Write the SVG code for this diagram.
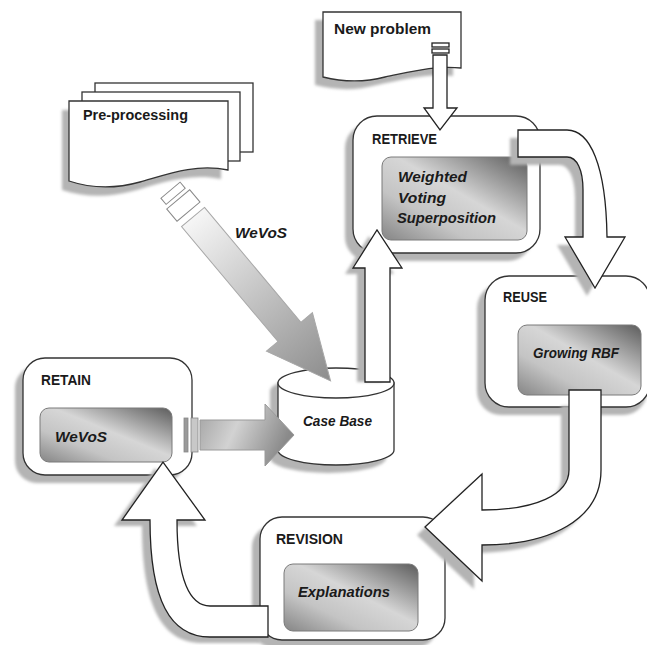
<svg xmlns="http://www.w3.org/2000/svg" width="647" height="645" viewBox="0 0 647 645">
<defs>
<style>
.sh{fill:#b4b4b4;filter:url(#blur)}
.box{fill:#fff;stroke:#333;stroke-width:1.3}
.inner{fill:url(#gin);stroke:#7a7a7a;stroke-width:1}
.arr{fill:#fff;stroke:#222;stroke-width:1.3;stroke-linejoin:miter}
.tab{fill:#fff;stroke:#888;stroke-width:1}
.t{font-family:"Liberation Sans",Arial,sans-serif;font-weight:bold;font-size:14.5px;fill:#1a1a1a}
.ti{font-family:"Liberation Sans",Arial,sans-serif;font-weight:bold;font-style:italic;font-size:14.5px;fill:#1a1a1a}
</style>
<filter id="blur" x="-10%" y="-10%" width="120%" height="120%"><feGaussianBlur stdDeviation="1.6"/></filter>
<linearGradient id="gin" x1="1" y1="0" x2="0" y2="1">
<stop offset="0" stop-color="#5c5c5c"/>
<stop offset="0.45" stop-color="#d6d6d6"/>
<stop offset="0.7" stop-color="#c4c4c4"/>
<stop offset="1" stop-color="#858585"/>
</linearGradient>
<linearGradient id="gdiag" x1="0" y1="0" x2="1" y2="0">
<stop offset="0" stop-color="#f6f6f6"/>
<stop offset="1" stop-color="#8c8c8c"/>
</linearGradient>
<linearGradient id="gret" x1="0" y1="0" x2="1" y2="0.3">
<stop offset="0" stop-color="#a2a2a2"/>
<stop offset="0.45" stop-color="#d2d2d2"/>
<stop offset="1" stop-color="#8a8a8a"/>
</linearGradient>
</defs>
<rect width="647" height="645" fill="#fff"/>

<g id="preprocessing">
<path class="sh" transform="translate(-7,9)" d="M69,101 L228,101 L228,170 C195,163 165,175 140,182 C115,189 90,188 69,181 Z"/>
<rect class="box" x="95" y="83" width="158" height="69"/>
<rect class="box" x="82" y="92" width="158" height="69"/>
<path class="box" d="M69,101 L228,101 L228,170 C195,163 165,175 140,182 C115,189 90,188 69,181 Z"/>
<text class="t" x="83" y="120" textLength="105" lengthAdjust="spacingAndGlyphs">Pre-processing</text>
</g>

<g id="newproblem">
<path class="sh" transform="translate(-8,8)" d="M323,12 L461,12 L461,68 C435,65 410,72 385,77 C362,83 343,82 323,77 Z"/>
<path class="box" d="M323,12 L461,12 L461,68 C435,65 410,72 385,77 C362,83 343,82 323,77 Z"/>
<text class="t" x="334" y="34" textLength="97" lengthAdjust="spacingAndGlyphs">New problem</text>
</g>

<g id="retrieve">
<rect class="sh" x="345" y="124" width="187" height="137" rx="24"/>
<rect class="box" x="353" y="116" width="187" height="137" rx="24"/>
<rect class="inner" x="382" y="157" width="145" height="83" rx="9"/>
<text class="t" x="372" y="144" textLength="65" lengthAdjust="spacingAndGlyphs">RETRIEVE</text>
<text class="ti" x="398" y="182" textLength="69" lengthAdjust="spacingAndGlyphs">Weighted</text>
<text class="ti" x="398" y="203" textLength="48" lengthAdjust="spacingAndGlyphs">Voting</text>
<text class="ti" x="397" y="223" textLength="99" lengthAdjust="spacingAndGlyphs">Superposition</text>
</g>

<g id="reuse">
<rect class="sh" x="477" y="284" width="170" height="131" rx="24"/>
<rect class="box" x="485" y="276" width="165" height="131" rx="24"/>
<rect class="inner" x="518" y="325" width="123" height="70" rx="9"/>
<text class="t" x="503" y="302" textLength="44" lengthAdjust="spacingAndGlyphs">REUSE</text>
<text class="ti" x="533" y="358" textLength="86" lengthAdjust="spacingAndGlyphs">Growing RBF</text>
</g>

<g id="retain">
<rect class="sh" x="15" y="366" width="169" height="117" rx="22"/>
<rect class="box" x="23" y="358" width="169" height="117" rx="22"/>
<rect class="inner" x="40" y="408" width="132" height="54" rx="9"/>
<text class="t" x="41" y="385" textLength="50" lengthAdjust="spacingAndGlyphs">RETAIN</text>
<text class="ti" x="55" y="442" textLength="52" lengthAdjust="spacingAndGlyphs">WeVoS</text>
</g>

<g id="revision">
<rect class="sh" x="252" y="525" width="185" height="123" rx="22"/>
<rect class="box" x="260" y="517" width="185" height="123" rx="22"/>
<rect class="inner" x="284" y="564" width="134" height="67" rx="9"/>
<text class="t" x="276" y="544" textLength="67" lengthAdjust="spacingAndGlyphs">REVISION</text>
<text class="ti" x="298" y="597" textLength="92" lengthAdjust="spacingAndGlyphs">Explanations</text>
</g>

<g id="casebase">
<path class="sh" transform="translate(-8,8)" d="M278,383 A58,15 0 0 1 394,383 L394,450 A58,15 0 0 1 278,450 Z"/>
<path class="box" d="M278,383 L278,450 A58,15 0 0 0 394,450 L394,383 Z"/>
<ellipse class="box" cx="336" cy="383" rx="58" ry="15"/>
<text class="ti" x="303" y="426" textLength="69" lengthAdjust="spacingAndGlyphs">Case Base</text>
</g>

<g id="connectors">
<!-- New problem to RETRIEVE -->
<rect class="arr" x="432" y="43" width="17" height="4" stroke-width="1"/>
<rect class="arr" x="432" y="49" width="17" height="4" stroke-width="1"/>
<path class="arr" d="M433,55 L447,55 L447,108 L457,108 L440,130 L424,108 L433,108 Z"/>

<!-- Case Base to RETRIEVE -->
<path class="sh" transform="translate(-8,6)" d="M365,376 L365,268 L353,268 L377,230 L402,268 L390,268 L390,376 Z"/>
<path class="arr" d="M365,382 L365,268 L353,268 L377,230 L402,268 L390,268 L390,382 Z"/>

<!-- RETRIEVE to REUSE -->
<path class="sh" transform="translate(-8,8)" d="M518,130 L567,130 C590,130 606,165 607,237 L625,237 L595,288 L565,237 L583,237 L583,190 C583,170 577,157 567,157 L518,157 Z"/>
<path class="arr" d="M518,130 L567,130 C590,130 606,165 607,237 L625,237 L595,288 L565,237 L583,237 L583,190 C583,170 577,157 567,157 L518,157 Z"/>

<!-- REUSE to REVISION -->
<path class="sh" transform="translate(-8,8)" d="M569,398 L601,398 L601,470 C601,520 550,545 482,545 L482,581 L425,527 L482,474 L482,510 C535,510 569,495 569,470 Z"/>
<path class="arr" d="M569,390 L601,390 L601,470 C601,520 550,545 482,545 L482,581 L425,527 L482,474 L482,510 C535,510 569,495 569,470 Z"/>

<!-- REVISION to RETAIN -->
<path class="sh" transform="translate(-8,6)" d="M268,606 L268,637 L210,637 C170,637 150,600 150,520 L122,520 L163,462 L205,520 L177,520 C177,580 190,606 210,606 Z"/>
<path class="arr" d="M268,606 L268,637 L210,637 C170,637 150,600 150,520 L122,520 L163,462 L205,520 L177,520 C177,580 190,606 210,606 Z"/>

<!-- RETAIN to Case Base -->
<rect x="184" y="418" width="4" height="34" fill="#9a9a9a" stroke="#888" stroke-width="0.8"/>
<rect x="191" y="418" width="7" height="34" fill="#c8c8c8" stroke="#888" stroke-width="0.8"/>
<path d="M200,420 L265,420 L265,404 L294,435 L265,466 L265,450 L200,450 Z" fill="url(#gret)" stroke="#9a9a9a" stroke-width="1"/>

<!-- Pre-processing to Case Base -->
<g transform="translate(193,217) rotate(50)">
<rect class="tab" x="-35" y="-12.5" width="8" height="25"/>
<rect class="tab" x="-23" y="-15" width="16" height="30"/>
<path d="M0,-15 L150,-15 L150,-30 L214,0 L150,30 L150,15 L0,15 Z" fill="url(#gdiag)" stroke="#a8a8a8" stroke-width="1"/>
</g>
<text class="ti" x="235" y="238" textLength="52" lengthAdjust="spacingAndGlyphs">WeVoS</text>
</g>
</svg>
